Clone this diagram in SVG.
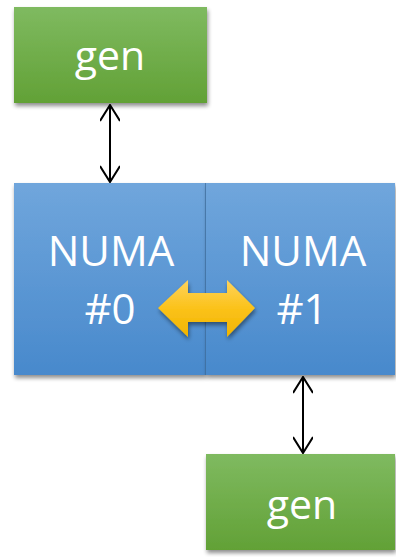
<svg xmlns="http://www.w3.org/2000/svg" width="396" height="557" viewBox="0 0 396 557">
  <defs>
    <linearGradient id="gGreen" x1="0" y1="0" x2="0" y2="1">
      <stop offset="0" stop-color="#7fba60"/>
      <stop offset="1" stop-color="#62a136"/>
    </linearGradient>
    <linearGradient id="gBlue" x1="0" y1="0" x2="0" y2="1">
      <stop offset="0" stop-color="#70a6dc"/>
      <stop offset="1" stop-color="#4889cc"/>
    </linearGradient>
    <linearGradient id="gGold" x1="0" y1="0" x2="0" y2="1">
      <stop offset="0" stop-color="#fed35c"/>
      <stop offset="0.5" stop-color="#fbc21a"/>
      <stop offset="1" stop-color="#f1b400"/>
    </linearGradient>
    <filter id="shadow" x="-10%" y="-10%" width="125%" height="125%">
      <feGaussianBlur in="SourceAlpha" stdDeviation="2"/>
      <feOffset dx="1" dy="3" result="b"/>
      <feComponentTransfer><feFuncA type="linear" slope="0.45"/></feComponentTransfer>
      <feMerge><feMergeNode/><feMergeNode in="SourceGraphic"/></feMerge>
    </filter>
    <marker id="chev" viewBox="0 0 20 20" refX="19" refY="10" markerWidth="20" markerHeight="20" markerUnits="userSpaceOnUse" orient="auto-start-reverse">
      <path d="M3,0 L19,10 L3,20" fill="none" stroke="#000" stroke-width="2"/>
    </marker>
  </defs>
  <style>
    .lbl { font-family: "Open Sans", "Noto Sans", sans-serif; fill: #fff; text-anchor: middle; }
    .gen { font-size: 41px; }
    .numa { font-size: 42px; }
    .link { stroke: #000; stroke-width: 2; fill: none; marker-start: url(#chev); marker-end: url(#chev); }
  </style>

  <g id="gen-top">
    <rect x="14" y="7" width="193" height="96" fill="url(#gGreen)" filter="url(#shadow)"/>
    <text class="lbl gen" x="110" y="70">gen</text>
  </g>

  <g id="numa-0">
    <rect x="14" y="183" width="192" height="192" fill="url(#gBlue)" filter="url(#shadow)"/>
    <text class="lbl numa" x="111" y="266">NUMA</text>
    <text class="lbl numa" x="110" y="324">#0</text>
  </g>

  <g id="numa-1">
    <rect x="206" y="183" width="189" height="192" fill="url(#gBlue)" filter="url(#shadow)"/>
    <line x1="205.5" y1="183" x2="205.5" y2="375" stroke="#3f6f9f" stroke-width="1" opacity="0.7"/>
    <text class="lbl numa" x="303" y="266">NUMA</text>
    <text class="lbl numa" x="302" y="324">#1</text>
  </g>

  <g id="gen-bottom">
    <rect x="206" y="454" width="189" height="96" fill="url(#gGreen)" filter="url(#shadow)"/>
    <text class="lbl gen" x="302" y="519">gen</text>
  </g>

  <g id="connectors">
    <line class="link" x1="110" y1="105" x2="110" y2="182"/>
    <line class="link" x1="303" y1="377" x2="303" y2="453"/>
    <path id="interconnect" d="M158,308 L188,280 L188,293 L227,293 L227,280 L255,308 L227,337 L227,322 L188,322 L188,337 Z" fill="url(#gGold)" filter="url(#shadow)"/>
  </g>
</svg>
